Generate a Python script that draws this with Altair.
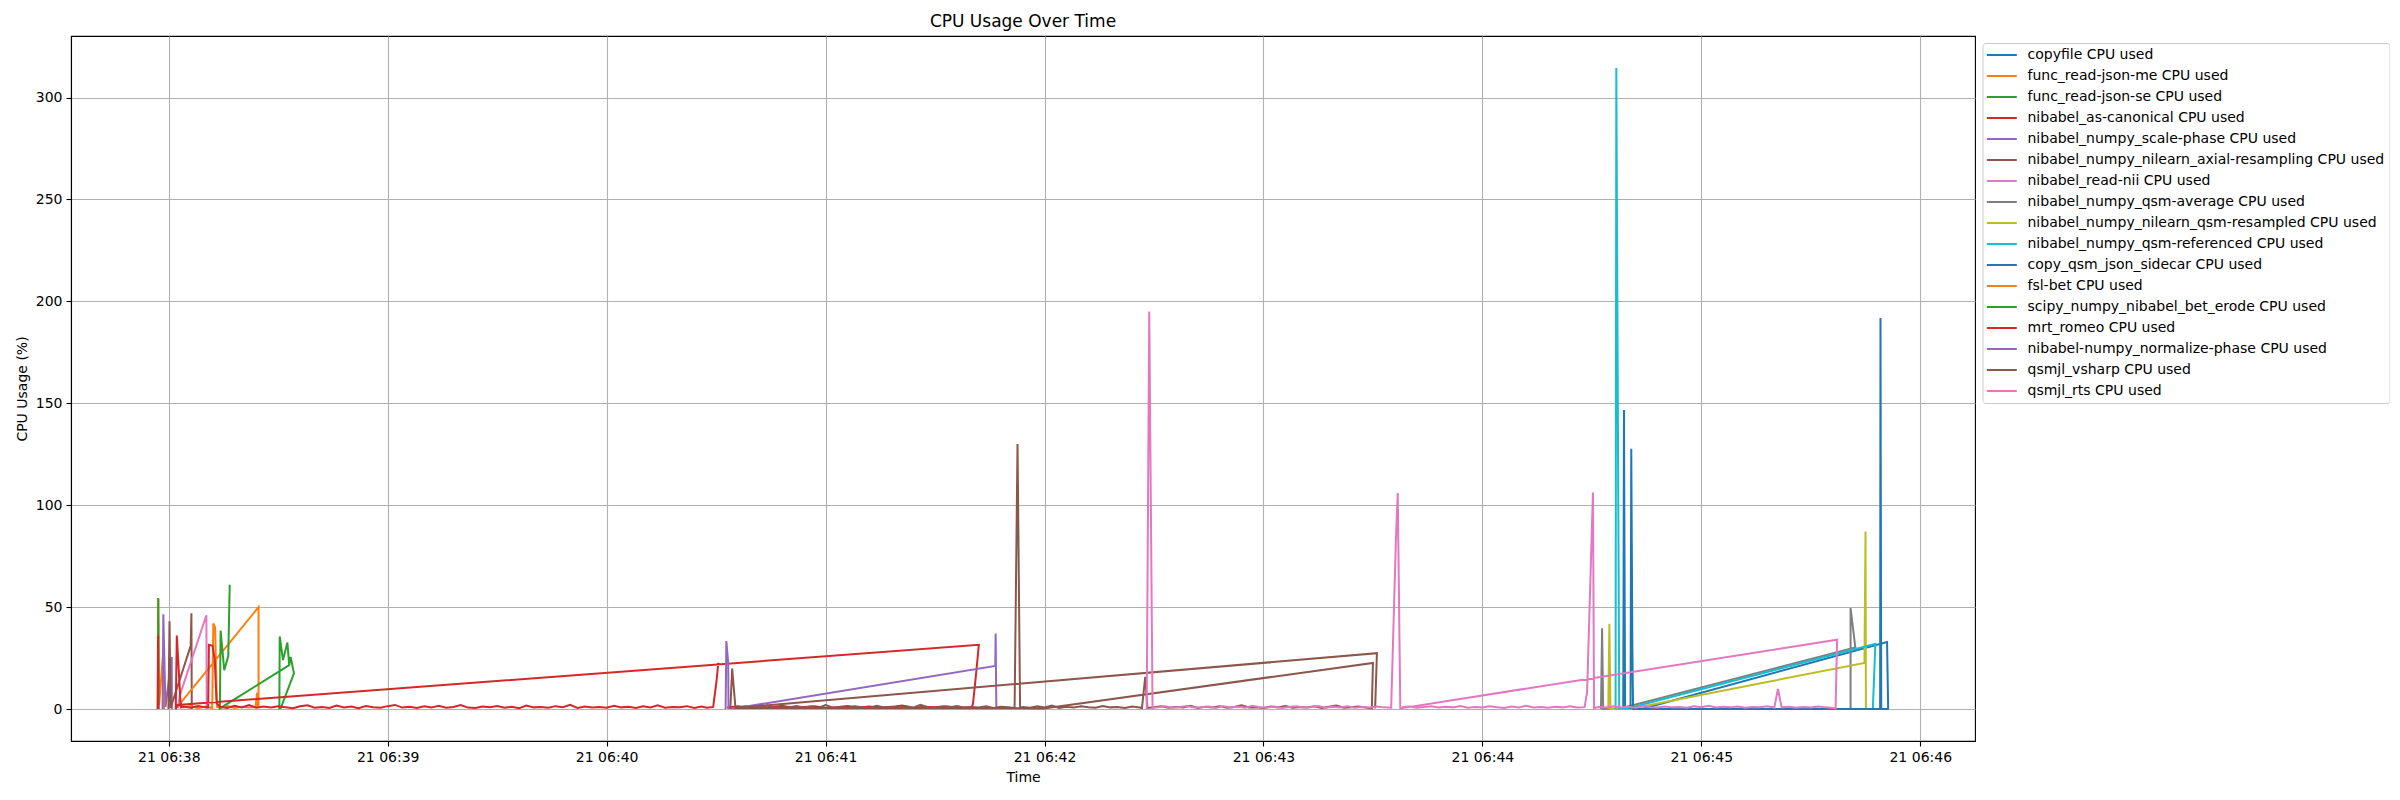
import altair as alt
import pandas as pd

# ---------------- data (times = seconds after 21 06:38:00, values = CPU %) ----------------
names = [
    "copyfile CPU used",
    "func_read-json-me CPU used",
    "func_read-json-se CPU used",
    "nibabel_as-canonical CPU used",
    "nibabel_numpy_scale-phase CPU used",
    "nibabel_numpy_nilearn_axial-resampling CPU used",
    "nibabel_read-nii CPU used",
    "nibabel_numpy_qsm-average CPU used",
    "nibabel_numpy_nilearn_qsm-resampled CPU used",
    "nibabel_numpy_qsm-referenced CPU used",
    "copy_qsm_json_sidecar CPU used",
    "fsl-bet CPU used",
    "scipy_numpy_nibabel_bet_erode CPU used",
    "mrt_romeo CPU used",
    "nibabel-numpy_normalize-phase CPU used",
    "qsmjl_vsharp CPU used",
    "qsmjl_rts CPU used",
]
colors = ["#1f77b4", "#ff7f0e", "#2ca02c", "#d62728", "#9467bd", "#8c564b",
          "#e377c2", "#7f7f7f", "#bcbd22", "#17becf", "#1f77b4", "#ff7f0e",
          "#2ca02c", "#d62728", "#9467bd", "#8c564b", "#e377c2"]

copyfile_t = [398.6, 398.8, 399.1, 404.2, 470.9, 471.2]
copyfile_v = [0.0, 146.7, 0.3, 0.3, 32.8, 0.0]

read_json_me_t = [-2.95, -2.85, -2.65, -1.45, -1.3]
read_json_me_v = [0.0, 54.0, 2.0, 30.0, 0.0]

read_json_se_t = [-3.0, -2.9, -2.8]
read_json_se_v = [0.0, 54.5, 0.0]

as_canonical_t = [-3.05, -2.95, -2.85]
as_canonical_v = [0.0, 36.0, 0.0]

scale_phase_t = [-1.7, -1.5, -0.9, 0.8, 0.85]
scale_phase_v = [0.0, 46.5, 1.0, 25.5, 0.0]

axial_t = [-0.1, 0.2, 0.5, 6.0, 6.2, 6.3]
axial_v = [0.0, 43.0, 0.5, 31.0, 47.0, 0.0]

read_nii_t = [2.5, 3.0, 10.3, 10.4]
read_nii_v = [0.5, 6.5, 46.0, 0.0]

qsm_average_t = [392.5, 392.8, 393.1, 397.8, 462.2, 460.9, 460.9]
qsm_average_v = [0.0, 39.6, 0.0, 0.3, 30.2, 49.5, 0.0]

qsm_resampled_t = [394.5, 394.8, 395.1, 401.0, 464.7, 465.0, 465.1]
qsm_resampled_v = [0.0, 41.8, 0.0, 0.3, 22.6, 87.1, 0.0]

qsm_referenced_t = [396.5, 396.7, 397.5, 399.7, 467.7, 467.0]
qsm_referenced_v = [0.0, 314.5, 0.3, 0.3, 32.0, 0.0]

sidecar_t = [400.6, 400.8, 401.1, 401.3, 441.2, 469.0, 469.1, 469.3, 471.3]
sidecar_v = [0.0, 127.7, 29.0, 0.0, 0.0, 0.0, 191.8, 0.0, 0.0]

fsl_bet_t = [24.6, 24.6, 2.8, 4, 6, 8, 10, 11.9, 12.2, 12.7, 13.2, 14, 16, 18, 20, 22, 23.8, 24.2, 24.4]
fsl_bet_v = [0.5, 50.0, 2.0, 0.8, 1.5, 0.4, 1.2, 0.5, 42.0, 40.0, 1.0, 0.6, 1.4, 0.5, 1.1, 0.7, 1.0, 8.0, 1.0]

erode_t = [16.7, 16.3, 15.2, 14.2, 14.0, 33.0, 33.4, 34.3, 30.7, 30.3, 30.4, 31.3, 32.5, 33.0]
erode_v = [61.0, 26.0, 19.0, 38.5, 0.3, 21.5, 25.5, 17.5, 0.5, 0.3, 35.6, 24.0, 32.6, 21.5]

normalize_t = [152.6, 152.8, 153.3, 153.4, 155.8, 226.5, 226.6, 226.8]
normalize_v = [0.0, 33.3, 22.9, 0.5, 0.5, 21.1, 37.0, 0.0]

# mrt_romeo pieces
romeo_noise_c = [0.8, 1.4, 0.5, 1.1, 0.7, 1.6, 0.6, 1.0, 1.3, 0.5, 0.9, 1.5, 0.7, 1.2, 0.6,
                 1.0, 1.7, 0.5, 1.1, 0.8, 1.3, 0.6, 0.9]          # t = 153 .. 219 step 3
romeo_ramp_t = [220.0, 220.4, 221.2, 222.0, 2.4, 1.9, 2.2, 3.3]
romeo_ramp_v = [0.5, 2.7, 16.5, 31.5, 2.0, 0.0, 36.0, 0.8]
romeo_noise_a = [1.2, 0.6, 1.5, 0.9]                                # t = 4 .. 10 step 2
romeo_bump_t = [10.8, 11.0, 12.0, 12.6, 13.1]
romeo_bump_v = [0.8, 31.5, 31.0, 24.0, 3.0]
romeo_noise_b = [1.1, 0.5, 1.6, 0.8, 1.9, 0.6, 1.2, 0.7, 1.4, 0.9,
                 0.4, 1.3, 1.8, 0.6, 1.0, 0.5, 1.7, 0.8, 1.2, 0.4,
                 1.5, 0.9, 0.6, 1.4, 2.0, 0.7, 1.1, 0.5, 1.3, 0.8,
                 1.6, 0.6, 1.0, 1.9, 0.7, 0.5, 1.2, 0.9, 1.5, 0.6,
                 1.1, 0.4, 1.7, 0.8, 1.0, 0.6, 1.4, 0.9, 2.1, 0.5,
                 1.2, 0.7, 1.0, 0.6, 1.6, 0.8, 1.1, 0.5, 1.3, 0.7,
                 1.8, 0.6, 1.0, 0.9, 1.4, 0.5, 1.2]                 # t = 14 .. 146 step 2
romeo_end_t = [147.5, 149.2, 150.1, 150.6]
romeo_end_v = [0.6, 1.0, 13.5, 22.7]

# qsmjl_vsharp pieces
vs_head_t = [153.9, 154.4, 155.3]
vs_head_v = [0.0, 19.8, 0.5]
vs_noise_a = [0.9, 1.4, 0.6, 1.1, 1.8, 0.5, 1.0, 0.7, 1.5, 0.8,
              1.2, 0.5, 1.9, 0.7, 1.0, 0.6, 1.3, 0.9, 0.5, 1.6,
              0.8, 1.1, 0.6, 1.4, 0.7, 2.0, 0.9, 0.5, 1.2, 0.8,
              1.5, 0.6, 1.0, 0.7, 1.3, 0.5, 1.1, 0.9]              # t = 156 .. 230 step 2
vs_spike_t = [231.8, 232.6, 233.3]
vs_spike_v = [0.5, 130.0, 0.5]
vs_noise_b = [1.0, 0.6, 1.4, 0.8, 1.7, 0.5, 1.1, 0.7, 1.3, 0.9, 0.6, 1.5, 0.8, 1.0, 0.5, 1.2, 0.7]  # 234..266
vs_bump_t = [266.7, 267.6, 268.2]
vs_bump_v = [0.5, 15.8, 0.5]
vs_noise_c = [0.9, 1.3, 0.6, 1.0, 0.8, 1.6, 0.5, 1.1, 0.7, 1.4,
              0.6, 1.0, 1.8, 0.7, 0.9, 0.5, 1.2, 0.8, 1.5, 0.6,
              1.0, 0.7, 1.3, 0.5, 1.1, 1.7, 0.6, 0.9, 1.2, 0.7]    # t = 270 .. 328 step 2
vs_tail_t = [329.7, 330.0, 239.8, 155.3, 331.1, 330.6]
vs_tail_v = [0.3, 22.6, 0.3, 0.5, 27.4, 0.3]

# qsmjl_rts pieces
rts_head_t = [268.0, 268.7, 269.6]
rts_head_v = [0.0, 195.0, 0.5]
rts_noise_a = [0.8, 1.3, 0.6, 1.0, 1.5, 0.7, 0.9, 1.2, 0.5, 1.4,
               0.8, 1.1, 0.6, 1.6, 0.9, 0.7, 1.2, 0.5, 1.0, 1.3,
               0.7, 0.9, 1.5, 0.6, 1.1, 0.8, 1.4, 0.6, 1.0, 0.7,
               1.2, 0.8, 0.6]                                      # t = 271 .. 335 step 2
rts_mid_t = [336.3, 336.8, 337.5, 457.2, 456.8]
rts_mid_v = [83.0, 106.0, 0.3, 34.0, 0.3]
rts_noise_b1 = [0.9, 1.2, 0.6, 1.0, 1.4, 0.7, 1.1, 0.8, 1.5, 0.6,
                1.0, 0.7, 1.3, 0.9, 0.5, 1.2, 0.8, 1.6, 0.7, 1.0,
                0.6, 1.1, 0.8, 1.3, 0.7, 0.9]                      # t = 338 .. 388 step 2
rts_spike_t = [388.7, 390.3, 390.6]
rts_spike_v = [8.3, 106.2, 0.5]
rts_noise_b2 = [1.0, 0.7, 1.4, 0.8, 1.1, 0.6, 1.5, 0.9, 0.7, 1.2,
                0.8, 1.0, 0.6, 1.3, 0.9, 1.6, 0.7, 1.1, 0.8, 1.2,
                0.6, 1.0, 0.9, 1.4, 0.7]                           # t = 392 .. 440 step 2
rts_bump_t = [441.0]
rts_bump_v = [9.9]
rts_noise_b3 = [0.8, 1.1, 0.6, 1.0, 0.7, 1.2, 0.8, 0.5]            # t = 442 .. 456 step 2


def noise(start, step, values):
    return [start + step * i for i in range(len(values))], list(values)


def join(*parts):
    ts, vs = [], []
    for t, v in parts:
        ts += list(t)
        vs += list(v)
    return ts, vs


romeo_t, romeo_v = join(
    noise(153, 3, romeo_noise_c), (romeo_ramp_t, romeo_ramp_v),
    noise(4, 2, romeo_noise_a), (romeo_bump_t, romeo_bump_v),
    noise(14, 2, romeo_noise_b), (romeo_end_t, romeo_end_v))

vsharp_t, vsharp_v = join(
    (vs_head_t, vs_head_v), noise(156, 2, vs_noise_a), (vs_spike_t, vs_spike_v),
    noise(234, 2, vs_noise_b), (vs_bump_t, vs_bump_v), noise(270, 2, vs_noise_c),
    (vs_tail_t, vs_tail_v))

rb_t, rb_v = join(noise(338, 2, rts_noise_b1), (rts_spike_t, rts_spike_v),
                  noise(392, 2, rts_noise_b2), (rts_bump_t, rts_bump_v),
                  noise(442, 2, rts_noise_b3))
rts_t, rts_v = join((rts_head_t, rts_head_v), noise(271, 2, rts_noise_a),
                    (rts_mid_t, rts_mid_v), (rb_t[::-1], rb_v[::-1]))

series = [
    (copyfile_t, copyfile_v), (read_json_me_t, read_json_me_v),
    (read_json_se_t, read_json_se_v), (as_canonical_t, as_canonical_v),
    (scale_phase_t, scale_phase_v), (axial_t, axial_v), (read_nii_t, read_nii_v),
    (qsm_average_t, qsm_average_v), (qsm_resampled_t, qsm_resampled_v),
    (qsm_referenced_t, qsm_referenced_v), (sidecar_t, sidecar_v),
    (fsl_bet_t, fsl_bet_v), (erode_t, erode_v), (romeo_t, romeo_v),
    (normalize_t, normalize_v), (vsharp_t, vsharp_v), (rts_t, rts_v),
]

rows = []
for name, (ts, vs) in zip(names, series):
    for i, (t, v) in enumerate(zip(ts, vs)):
        rows.append({"series": name, "t": t, "cpu": v, "ord": i})
df = pd.DataFrame(rows)

x_ticks = [0, 60, 120, 180, 240, 300, 360, 420, 480]
y_ticks = [0, 50, 100, 150, 200, 250, 300]

font = "DejaVu Sans"
W = 1904
H = 705

chart = alt.Chart(df).mark_line(strokeWidth=2, clip=True).encode(
    x=alt.X("t:Q",
            scale=alt.Scale(domain=[-26.8, 495.0], nice=False, zero=False),
            axis=alt.Axis(values=x_ticks, title="Time",
                          labelExpr="'21 06:' + (38 + datum.value / 60)")),
    y=alt.Y("cpu:Q",
            scale=alt.Scale(domain=[-15.7, 330.2], nice=False, zero=False),
            axis=alt.Axis(values=y_ticks, title="CPU Usage (%)")),
    color=alt.Color("series:N",
                    scale=alt.Scale(domain=names, range=colors),
                    sort=names,
                    legend=alt.Legend(title=None, orient="none",
                                      legendX=W + 7.5, legendY=7,
                                      padding=5, strokeColor="#cccccc",
                                      fillColor="white", cornerRadius=3,
                                      symbolType="M-1.28,0H3.72", symbolSize=144,
                                      symbolStrokeWidth=2, labelFontSize=14,
                                      labelFont=font, labelColor="black",
                                      labelOffset=26, labelLimit=600,
                                      rowPadding=7)),
    order=alt.Order("ord:Q"),
).properties(
    width=W,
    height=H,
    title=alt.TitleParams("CPU Usage Over Time", fontSize=17, fontWeight="normal",
                          font=font, color="black", offset=5),
    padding={"left": 7, "top": 5, "right": 0, "bottom": 2},
).configure_view(
    stroke="black", strokeWidth=1.1
).configure_axis(
    domainColor="black", domainWidth=1.1, tickColor="black", tickSize=5,
    tickWidth=1.1, labelFontSize=14, labelFont=font, labelColor="black",
    labelPadding=4, titleFontSize=14, titleFont=font, titleFontWeight="normal",
    titleColor="black", titlePadding=6, gridColor="#b0b0b0", gridWidth=1.1,
    grid=True
)

chart.save("out.html", embed_options={"renderer": "svg", "actions": False})
